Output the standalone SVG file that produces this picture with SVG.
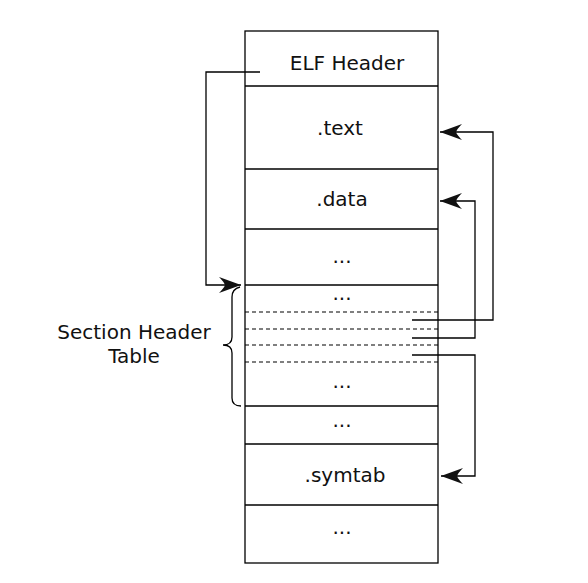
<svg xmlns="http://www.w3.org/2000/svg" width="588" height="583" viewBox="0 0 588 583">
<style>
.box{fill:none;stroke:#000;stroke-width:1.3}
.sep{stroke:#000;stroke-width:1.3}
.dash{stroke:#000;stroke-width:1.1;stroke-dasharray:4,3}
.lbl{font-family:"DejaVu Sans",sans-serif;font-size:20px;fill:#111;text-anchor:middle}
.conn{fill:none;stroke:#000;stroke-width:1.3}
</style>
<defs>
<marker id="ah" markerUnits="userSpaceOnUse" markerWidth="30" markerHeight="20" viewBox="-24 -10 26 20" refX="0" refY="0" orient="auto">
<path d="M0,0 L-22,-8 Q-17,-3 -16,0 Q-17,3 -22,8 Z" fill="#111"/>
</marker>
</defs>
<rect width="588" height="583" fill="#fff"/>
<g id="sections">
<rect class="box" x="245" y="31" width="193" height="532"/>
<line class="sep" x1="245" y1="86" x2="438" y2="86"/>
<line class="sep" x1="245" y1="169" x2="438" y2="169"/>
<line class="sep" x1="245" y1="229" x2="438" y2="229"/>
<line class="sep" x1="245" y1="285" x2="438" y2="285"/>
<line class="dash" x1="245" y1="312" x2="438" y2="312"/>
<line class="dash" x1="245" y1="329" x2="438" y2="329"/>
<line class="dash" x1="245" y1="345" x2="438" y2="345"/>
<line class="dash" x1="245" y1="362" x2="438" y2="362"/>
<line class="sep" x1="245" y1="406" x2="438" y2="406"/>
<line class="sep" x1="245" y1="444" x2="438" y2="444"/>
<line class="sep" x1="245" y1="505" x2="438" y2="505"/>
</g>
<g id="elf-header"><text class="lbl" x="347" y="70">ELF Header</text></g>
<g id="text-section"><text class="lbl" x="340" y="135">.text</text></g>
<g id="data-section"><text class="lbl" x="342" y="206">.data</text></g>
<g id="dots1"><text class="lbl" x="342" y="263">...</text></g>
<g id="sht"><text class="lbl" x="342" y="300">...</text><text class="lbl" x="342" y="388">...</text></g>
<g id="dots2"><text class="lbl" x="342" y="427">...</text></g>
<g id="symtab-section"><text class="lbl" x="345" y="482">.symtab</text></g>
<g id="dots3"><text class="lbl" x="342" y="534">...</text></g>
<g id="sht-label">
<text class="lbl" x="134" y="339">Section Header</text>
<text class="lbl" x="134" y="363">Table</text>
<path class="conn" d="M240,287 Q232,289 232,297 L232,337 Q232,345 223,345 Q232,345 232,353 L232,398 Q232,406 241,406"/>
</g>
<g id="connectors">
<path class="conn" d="M260,72 L206,72 L206,285 L241,285" marker-end="url(#ah)"/>
<path class="conn" d="M412,320 L493,320 L493,132 L440,132" marker-end="url(#ah)"/>
<path class="conn" d="M412,338 L475,338 L475,201 L440,201" marker-end="url(#ah)"/>
<path class="conn" d="M412,355 L475,355 L475,476 L441,476" marker-end="url(#ah)"/>
</g>
</svg>
